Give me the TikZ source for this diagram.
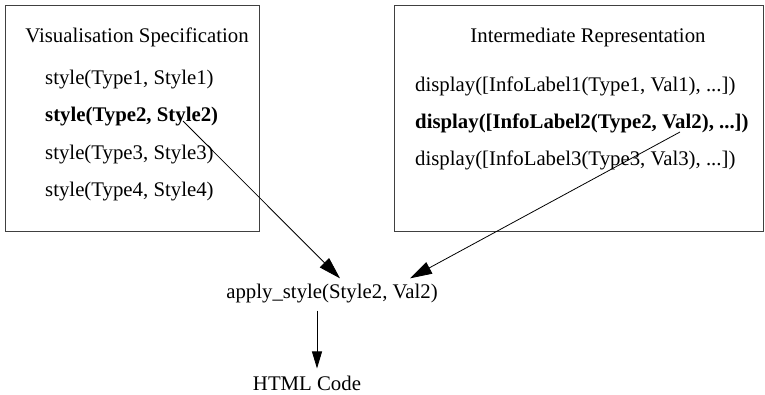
\documentclass[tikz,border=0pt]{standalone}
\usepackage{fontspec}
\setmainfont{Liberation Serif}
\usetikzlibrary{arrows.meta,calc}

\begin{document}
\begin{tikzpicture}[x=1pt,y=-1pt,
  every node/.style={font=\fontsize{20.8}{25}\selectfont, inner sep=0pt},
  panel/.style={draw=black!75, line width=0.9pt, minimum width=#1, minimum height=226pt},
  entry/.style={anchor=west},
  flow/.style={draw, line width=0.8pt, -{Triangle[length=22pt,width=13pt]}},
  flowsmall/.style={draw, line width=0.8pt, -{Triangle[length=17pt,width=10pt]}}]
  \useasboundingbox (0,0) rectangle (765,394);

  % the two panels
  \node[panel=254pt] (spec) at (132,118) {};
  \node[panel=369pt] (ir) at (578.5,118) {};

  % visualisation specification
  \node (spectitle) at (137,37) {Visualisation Specification};
  \node[entry] (st1) at (45,80) {style(Type1, Style1)};
  \node[entry] (st2) at (45,117) {\bfseries style(Type2, Style2)};
  \node[entry] (st3) at (45,155) {style(Type3, Style3)};
  \node[entry] (st4) at (45,192) {style(Type4, Style4)};

  % intermediate representation
  \node (irtitle) at (588,37) {Intermediate Representation};
  \node[entry] (d1) at (415,86) {display([InfoLabel1(Type1, Val1), ...])};
  \node[entry] (d2) at (415,123) {\bfseries display([InfoLabel2(Type2, Val2), ...])};
  \node[entry] (d3) at (415,160) {display([InfoLabel3(Type3, Val3), ...])};

  % result
  \node (apply) at (332,294) {apply\_style(Style2, Val2)};
  \node (html) at (307,383) {HTML Code};

  % connector ends
  \coordinate (s2) at ($(st2.west)+(138,4)$);
  \coordinate (v2) at ($(d2.west)+(265,9)$);
  \coordinate (in1) at ($(apply.north)+(8,-6)$);
  \coordinate (in2) at ($(apply.north)+(78,-6)$);
  \coordinate (out) at ($(apply.south)+(-15,7)$);
  \coordinate (into) at ($(out |- html.north)+(0,-7)$);

  \draw[flow] (s2) -- (in1);
  \draw[flow] (v2) -- (in2);
  \draw[flowsmall] (out) -- (into);
\end{tikzpicture}
\end{document}
